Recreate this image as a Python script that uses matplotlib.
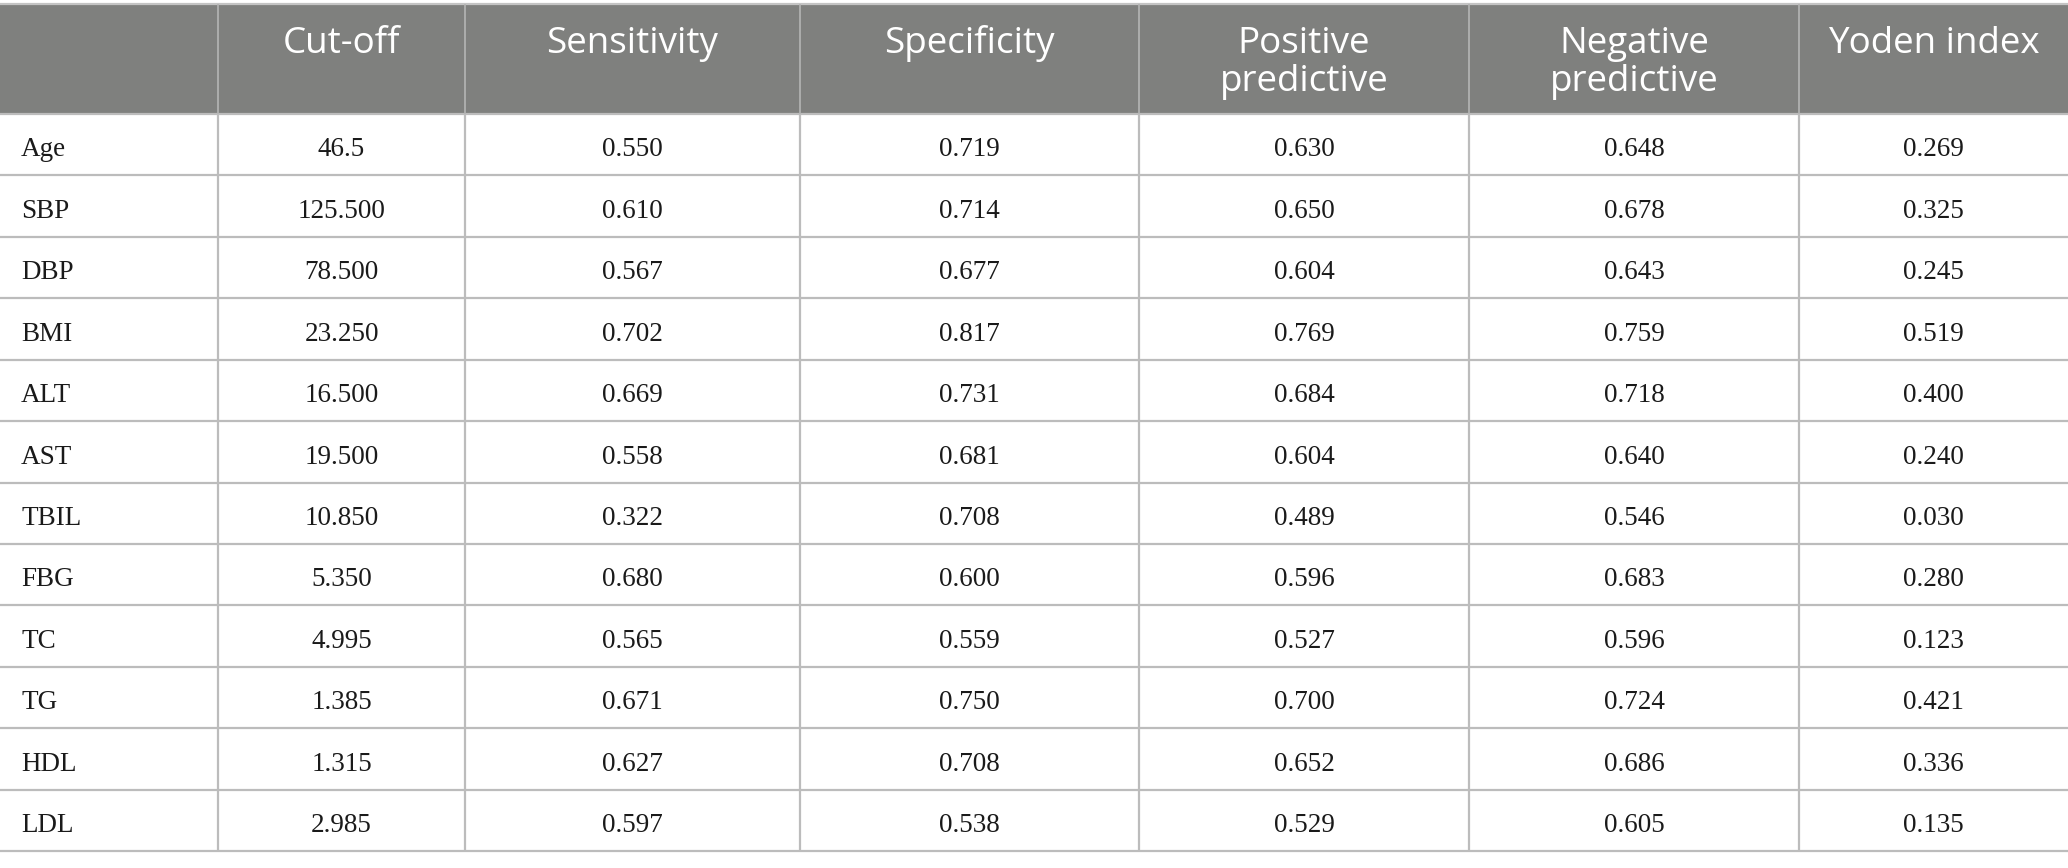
import matplotlib
matplotlib.use("Agg")
import matplotlib.pyplot as plt
from matplotlib.patches import Rectangle

# ---- data ----
header = ["", "Cut-off", "Sensitivity", "Specificity", "Positive\npredictive",
          "Negative\npredictive", "Yoden index"]
variables = ["Age", "SBP", "DBP", "BMI", "ALT", "AST", "TBIL", "FBG", "TC", "TG", "HDL", "LDL"]
cutoff = ["46.5", "125.500", "78.500", "23.250", "16.500", "19.500", "10.850",
          "5.350", "4.995", "1.385", "1.315", "2.985"]
sensitivity = ["0.550", "0.610", "0.567", "0.702", "0.669", "0.558", "0.322",
               "0.680", "0.565", "0.671", "0.627", "0.597"]
specificity = ["0.719", "0.714", "0.677", "0.817", "0.731", "0.681", "0.708",
               "0.600", "0.559", "0.750", "0.708", "0.538"]
pos_pred = ["0.630", "0.650", "0.604", "0.769", "0.684", "0.604", "0.489",
            "0.596", "0.527", "0.700", "0.652", "0.529"]
neg_pred = ["0.648", "0.678", "0.643", "0.759", "0.718", "0.640", "0.546",
            "0.683", "0.596", "0.724", "0.686", "0.605"]
youden = ["0.269", "0.325", "0.245", "0.519", "0.400", "0.240", "0.030",
          "0.280", "0.123", "0.421", "0.336", "0.135"]

columns = [variables, cutoff, sensitivity, specificity, pos_pred, neg_pred, youden]

# ---- layout (pixels) ----
W, H = 2068, 868
col_edges = [0, 218, 465, 800, 1139, 1469, 1799, 2068]
head_top, head_bot = 4, 114
table_bot = 851
n_rows = len(variables)
row_h = (table_bot - head_bot) / n_rows

head_color = "#7f807e"
line_color = "#bcbcbc"
head_line = "#b5b5b5"

fig = plt.figure(figsize=(W / 100, H / 100), dpi=100)
ax = fig.add_axes([0, 0, 1, 1])
ax.set_xlim(0, W)
ax.set_ylim(H, 0)
ax.set_axis_off()

# header background
ax.add_patch(Rectangle((0, head_top), W, head_bot - head_top,
                       facecolor=head_color, edgecolor="none", zorder=1))

# horizontal lines
ax.plot([0, W], [head_top, head_top], color="#c4c4c4", lw=1.6, zorder=3,
        solid_capstyle="butt")
for i in range(n_rows + 1):
    y = head_bot + i * row_h
    ax.plot([0, W], [y, y], color=line_color, lw=1.6, zorder=3,
            solid_capstyle="butt")

# vertical lines
for x in col_edges[1:-1]:
    ax.plot([x, x], [head_top, head_bot], color=head_line, lw=1.2, zorder=3,
            solid_capstyle="butt")
    ax.plot([x, x], [head_bot, table_bot], color=line_color, lw=1.6, zorder=3,
            solid_capstyle="butt")

# header text
head_font = dict(family=["Open Sans", "DejaVu Sans"], size=26.5, color="white")
for j, lab in enumerate(header):
    if not lab:
        continue
    xc = (col_edges[j] + col_edges[j + 1]) / 2
    lines = lab.split("\n")
    for k, ln in enumerate(lines):
        ax.text(xc, 53 + k * 38, ln, ha="center", va="baseline", zorder=4,
                **head_font)

# body text
body_font = dict(family=["Liberation Serif", "DejaVu Serif"], size=19.5,
                 color="#1a1a1a")
for i in range(n_rows):
    yb = head_bot + i * row_h + 42.5
    for j, col in enumerate(columns):
        if j == 0:
            ax.text(col_edges[0] + 21, yb, col[i], ha="left", va="baseline",
                    zorder=4, **body_font)
        else:
            xc = (col_edges[j] + col_edges[j + 1]) / 2
            ax.text(xc, yb, col[i], ha="center", va="baseline", zorder=4,
                    **body_font)

fig.savefig("out.png", dpi=100, facecolor="white")
